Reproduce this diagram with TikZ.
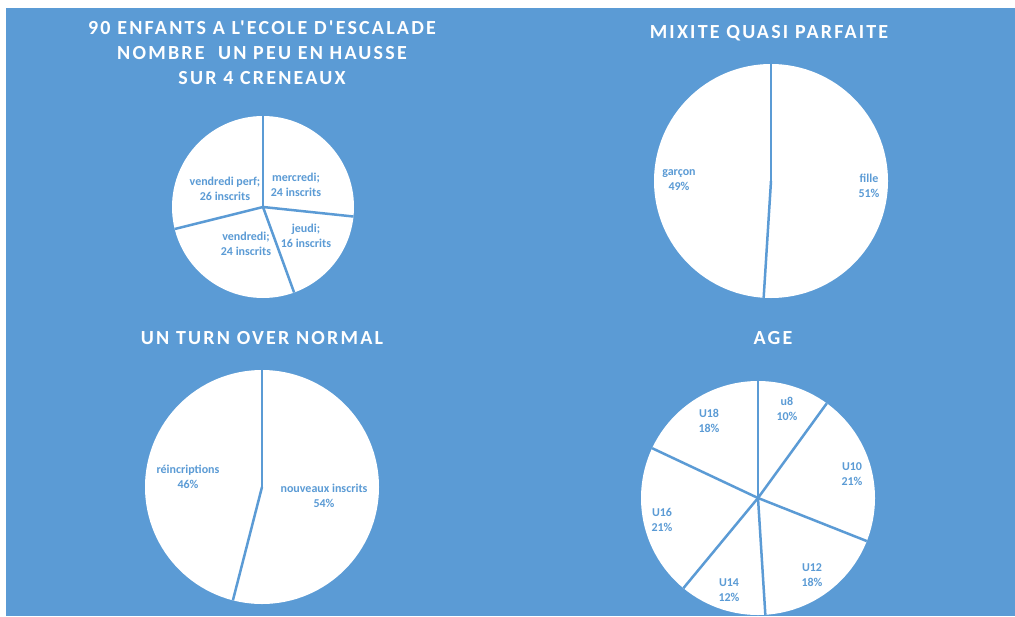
\documentclass[tikz,border=0pt]{standalone}
\usepackage{fontspec}
\setmainfont{Carlito}
\newfontfamily\titrefont{Carlito}[LetterSpace=11]
\definecolor{fond}{HTML}{5B9BD5}
\tikzset{
	coupe/.style={draw=fond, line width=2.5pt},
	etiquette/.style={text=fond, font=\fontsize{12}{15.5}\selectfont\bfseries, align=center, inner sep=0pt},
	titre/.style={text=white, font=\titrefont\fontsize{20}{25}\selectfont\bfseries, align=center, inner sep=0pt},
}

\begin{document}
\begin{tikzpicture}[x=1pt,y=1pt,yscale=-1,xscale=1]
	\useasboundingbox (0,0) rectangle (1015,616);
	\fill [white] (0,0) rectangle (1015,616);
	\fill [fond] (6,8) rectangle (1015,616);
	% centres des camemberts
	\coordinate (creneaux) at (263,207);
	\coordinate (mixite) at (771,181);
	\coordinate (turnover) at (262,487);
	\coordinate (age) at (758,498);
	% creneaux
	\fill [white] (creneaux) circle (91);
	\draw [coupe] (creneaux) -- ++(-90:91);
	\draw [coupe] (creneaux) -- ++(6:91);
	\draw [coupe] (creneaux) -- ++(70:91);
	\draw [coupe] (creneaux) -- ++(166:91);
	% mixite
	\fill [white] (mixite) circle (117);
	\draw [coupe] (mixite) -- ++(-90:117);
	\draw [coupe] (mixite) -- ++(93.6:117);
	% turn over
	\fill [white] (turnover) circle (117);
	\draw [coupe] (turnover) -- ++(-90:117);
	\draw [coupe] (turnover) -- ++(104.4:117);
	% age
	\fill [white] (age) circle (117);
	\draw [coupe] (age) -- ++(-90:117);
	\draw [coupe] (age) -- ++(-54:117);
	\draw [coupe] (age) -- ++(21.6:117);
	\draw [coupe] (age) -- ++(86.4:117);
	\draw [coupe] (age) -- ++(129.6:117);
	\draw [coupe] (age) -- ++(205.2:117);
	% titres
	\draw (262,53) node [titre] (titreCreneaux) {90 ENFANTS A L'ECOLE D'ESCALADE\\NOMBRE\ \ UN PEU EN HAUSSE\\SUR 4 CRENEAUX};
	\draw (769,33) node [titre] (titreMixite) {MIXITE QUASI PARFAITE};
	\draw (262,338) node [titre] (titreTurnover) {UN TURN OVER NORMAL};
	\draw (773,338) node [titre] (titreAge) {AGE};
	% etiquettes
	\draw (296,185) node [etiquette] (mercredi) {mercredi;\\24 inscrits};
	\draw (306,236) node [etiquette] (jeudi) {jeudi;\\16 inscrits};
	\draw (246,244) node [etiquette] (vendredi) {vendredi;\\24 inscrits};
	\draw (225,189) node [etiquette] (vendrediPerf) {vendredi perf;\\26 inscrits};
	\draw (679,180) node [etiquette] (garcon) {garçon\\49\%};
	\draw (869,186) node [etiquette] (fille) {fille\\51\%};
	\draw (188,477) node [etiquette] (reinscriptions) {réincriptions\\46\%};
	\draw (324,496) node [etiquette] (nouveaux) {nouveaux inscrits\\54\%};
	\draw (787,409) node [etiquette] (uHuit) {u8\\10\%};
	\draw (852,474) node [etiquette] (uDix) {U10\\21\%};
	\draw (812,575) node [etiquette] (uDouze) {U12\\18\%};
	\draw (729,590) node [etiquette] (uQuatorze) {U14\\12\%};
	\draw (662,520) node [etiquette] (uSeize) {U16\\21\%};
	\draw (709,421) node [etiquette] (uDixHuit) {U18\\18\%};
\end{tikzpicture}
\end{document}
